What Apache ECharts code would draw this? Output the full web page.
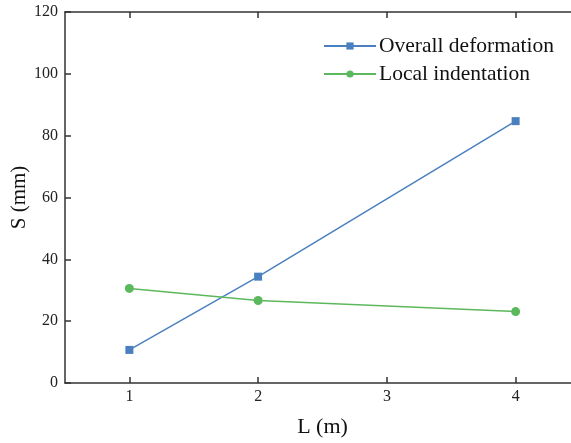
<!DOCTYPE html>
<html>
<head>
<meta charset="utf-8">
<script src="https://cdn.jsdelivr.net/npm/echarts@6/dist/echarts.min.js"></script>
<style>
  html, body { margin: 0; padding: 0; background: #fff; }
  #main { width: 571px; height: 443px; }
</style>
</head>
<body>
<div id="main"></div>
<script>
// L (m) values on the x axis
var lengths = [1, 2, 4];
var overallDeformation = [10.7, 34.4, 84.7];
var localIndentation = [30.6, 26.7, 23.1];
var xTicks = [1, 2, 3, 4];
var seriesNames = ['Overall deformation', 'Local indentation'];

function pairs(xs, ys) {
    var out = [];
    for (var i = 0; i < xs.length; i++) {
        out.push([xs[i], ys[i]]);
    }
    return out;
}

var fontFam = '"Times New Roman", "Liberation Serif", serif';
var axisColor = '#333';

var myChart = echarts.init(document.getElementById('main'));

var option = {
    animation: false,
    backgroundColor: '#fff',
    textStyle: { fontFamily: fontFam },
    grid: { left: 65, right: -9, top: 12, bottom: 60, containLabel: false, outerBoundsMode: 'none' },
    legend: {
        orient: 'vertical',
        left: 318,
        top: 30,
        itemWidth: 52,
        itemHeight: 9,
        itemGap: 6,
        textStyle: { fontFamily: fontFam, fontSize: 21.5, color: '#111', padding: [0, 0, 0, -2] },
        data: seriesNames
    },
    xAxis: [{
        type: 'value',
        min: 0.5,
        max: 4.5,
        name: 'L (m)',
        nameLocation: 'middle',
        nameGap: 33,
        nameTextStyle: { fontFamily: fontFam, fontSize: 22, color: '#111' },
        splitLine: { show: false },
        axisLine: { show: true, lineStyle: { color: axisColor, width: 1.5 } },
        axisTick: { show: true, inside: true, length: 6, customValues: xTicks, lineStyle: { color: axisColor, width: 1.5 } },
        axisLabel: { customValues: xTicks, fontFamily: fontFam, fontSize: 16, color: '#222', margin: 6 }
    }, {
        type: 'value',
        position: 'top',
        min: 0.5,
        max: 4.5,
        splitLine: { show: false },
        axisLine: { show: true, lineStyle: { color: axisColor, width: 1.5 } },
        axisTick: { show: true, inside: true, length: 6, customValues: xTicks, lineStyle: { color: axisColor, width: 1.5 } },
        axisLabel: { show: false }
    }],
    yAxis: {
        type: 'value',
        min: 0,
        max: 120,
        interval: 20,
        name: 'S (mm)',
        nameLocation: 'middle',
        nameGap: 35,
        nameMoveOverlap: false,
        nameTextStyle: { fontFamily: fontFam, fontSize: 21, color: '#111' },
        splitLine: { show: false },
        axisLine: { show: true, lineStyle: { color: axisColor, width: 1.5 } },
        axisTick: { show: true, inside: true, length: 6, lineStyle: { color: axisColor, width: 1.5 } },
        axisLabel: { fontFamily: fontFam, fontSize: 16, color: '#222', margin: 7 }
    },
    series: [{
        name: seriesNames[0],
        type: 'line',
        symbol: 'rect',
        symbolSize: 8,
        color: '#4a80c0',
        lineStyle: { width: 1.5 },
        data: pairs(lengths, overallDeformation)
    }, {
        name: seriesNames[1],
        type: 'line',
        symbol: 'circle',
        symbolSize: 9,
        color: '#5cb85c',
        lineStyle: { width: 1.5 },
        data: pairs(lengths, localIndentation)
    }]
};
myChart.setOption(option);
</script>
</body>
</html>
